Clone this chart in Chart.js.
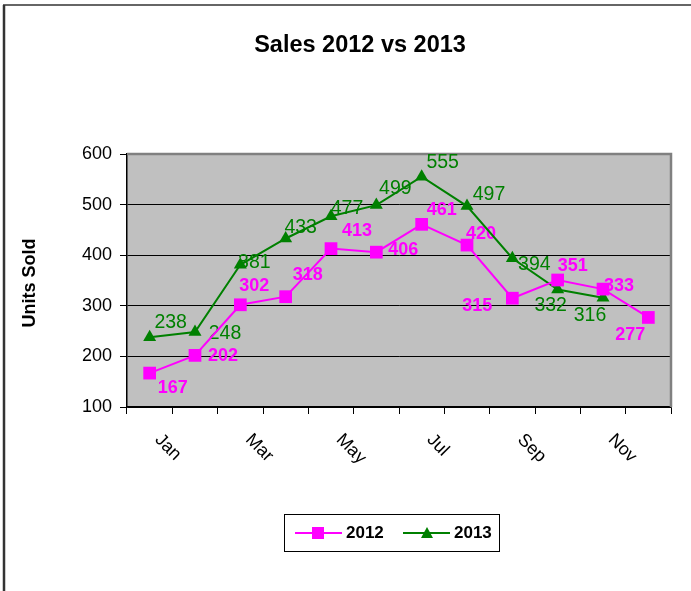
<!DOCTYPE html>
<html>
<head>
<meta charset="utf-8">
<script src="https://cdn.jsdelivr.net/npm/chart.js@4.4.0/dist/chart.umd.min.js"></script>
<style>
  html, body { margin: 0; padding: 0; background: #fff; }
  canvas { display: block; }
</style>
</head>
<body>
<canvas id="myChart" width="691" height="591"></canvas>
<script>
const months = ['Jan', 'Feb', 'Mar', 'Apr', 'May', 'Jun', 'Jul', 'Aug', 'Sep', 'Oct', 'Nov', 'Dec'];
const sales2012 = [167, 202, 302, 318, 413, 406, 461, 420, 315, 351, 333, 277];
const sales2013 = [238, 248, 381, 433, 477, 499, 555, 497, 394, 332, 316, null];
const yMin = 100;
const yMax = 600;
const yStep = 100;

// where each value label sits relative to its point (px)
const labelOffsets2012 = [[23,15],[28,1],[14,-19],[22,-22],[26,-18],[27,-2],[20,-14],[14,-11],[-35,8],[15,-14],[16,-3],[-18,18]];
const labelOffsets2013 = [[21,-15],[30,2],[14,-2],[15,-11],[16,-8],[19,-16],[21,-14],[22,-11],[22,6],[-7,16],[-13,18]];

const FONT = '"Liberation Sans", Arial, sans-serif';
const MAGENTA = '#FF00FF';
const GREEN = '#008000';

const decorations = {
    id: 'decorations',
    beforeDraw(chart) {
        const c = chart.ctx;
        const a = chart.chartArea;
        c.save();
        c.fillStyle = '#fff';
        c.fillRect(0, 0, chart.width, chart.height);
        // outer frame
        c.strokeStyle = '#333';
        c.lineWidth = 2.5;
        c.beginPath();
        c.moveTo(4, chart.height + 5);
        c.lineTo(4, 5);
        c.stroke();
        c.lineWidth = 1.5;
        c.beginPath();
        c.moveTo(3, 5);
        c.lineTo(chart.width + 5, 5);
        c.stroke();
        // plot area
        c.fillStyle = '#C0C0C0';
        c.fillRect(a.left, a.top, a.right - a.left, a.bottom - a.top);
        // title
        c.fillStyle = '#000';
        c.font = 'bold 23.5px ' + FONT;
        c.textAlign = 'center';
        c.textBaseline = 'middle';
        c.fillText('Sales 2012 vs 2013', 360, 46);
        // y axis title
        c.translate(30, 283);
        c.rotate(-Math.PI / 2);
        c.font = 'bold 18px ' + FONT;
        c.fillText('Units Sold', 0, 0);
        c.restore();
    },
    beforeDatasetsDraw(chart) {
        const c = chart.ctx;
        const a = chart.chartArea;
        c.save();
        c.strokeStyle = '#808080';
        c.lineWidth = 2.5;
        c.beginPath();
        c.moveTo(a.left, a.top);
        c.lineTo(a.right, a.top);
        c.lineTo(a.right, a.bottom);
        c.stroke();

        // value labels (markers are drawn over them)
        const sets = [
            { offs: labelOffsets2012, font: 'bold 18px ' + FONT, color: MAGENTA },
            { offs: labelOffsets2013, font: '19.5px ' + FONT, color: GREEN }
        ];
        c.textAlign = 'center';
        c.textBaseline = 'middle';
        sets.forEach((s, di) => {
            const meta = chart.getDatasetMeta(di);
            const vals = chart.data.datasets[di].data;
            c.font = s.font;
            c.fillStyle = s.color;
            meta.data.forEach((pt, i) => {
                if (vals[i] == null || !s.offs[i]) return;
                c.fillText(String(vals[i]), pt.x + s.offs[i][0], pt.y + s.offs[i][1]);
            });
        });
        c.restore();
    },
    afterDraw(chart) {
        const c = chart.ctx;
        const xs = chart.scales.x;
        c.save();
        // rotated month labels, every other month
        c.fillStyle = '#000';
        c.font = '18px ' + FONT;
        c.textAlign = 'left';
        c.textBaseline = 'middle';
        months.forEach((m, i) => {
            if (i % 2) return;
            const x = xs.getPixelForValue(i);
            c.save();
            c.translate(x + 8, 437);
            c.rotate(Math.PI / 4);
            c.fillText(m, 0, 0);
            c.restore();
        });

        // legend
        c.strokeStyle = '#000';
        c.lineWidth = 1;
        c.strokeRect(284.5, 514.5, 215, 37);
        c.lineWidth = 2;
        c.strokeStyle = MAGENTA;
        c.beginPath(); c.moveTo(295, 533); c.lineTo(342, 533); c.stroke();
        c.fillStyle = MAGENTA;
        c.fillRect(312, 527, 12, 12);
        c.strokeStyle = GREEN;
        c.beginPath(); c.moveTo(403, 533); c.lineTo(450, 533); c.stroke();
        c.fillStyle = GREEN;
        c.beginPath();
        c.moveTo(427, 527); c.lineTo(433, 538); c.lineTo(421, 538); c.closePath();
        c.fill();
        c.fillStyle = '#000';
        c.font = 'bold 17px ' + FONT;
        c.textAlign = 'left';
        c.fillText('2012', 346, 533);
        c.fillText('2013', 454, 533);
        c.restore();
    }
};

const ctx = document.getElementById('myChart');

const config = {
    type: 'line',
    data: {
        labels: months,
        datasets: [
            {
                label: '2012',
                data: sales2012,
                borderColor: MAGENTA,
                backgroundColor: MAGENTA,
                borderWidth: 2,
                pointStyle: 'rect',
                pointRadius: 9,
                pointBorderWidth: 0,
                tension: 0
            },
            {
                label: '2013',
                data: sales2013,
                borderColor: GREEN,
                backgroundColor: GREEN,
                borderWidth: 2,
                pointStyle: 'triangle',
                pointRadius: 7.5,
                pointBorderWidth: 0,
                tension: 0
            }
        ]
    },
    options: {
        responsive: false,
        animation: false,
        events: [],
        layout: {
            padding: { left: 77, top: 154, right: 20, bottom: 177 }
        },
        plugins: {
            legend: { display: false },
            title: { display: false },
            tooltip: { enabled: false }
        },
        scales: {
            x: {
                offset: true,
                afterFit: (s) => { s.height = 7; },
                grid: {
                    offset: true,
                    drawOnChartArea: false,
                    drawTicks: true,
                    tickLength: 7,
                    tickColor: '#000',
                    color: '#000'
                },
                border: { display: true, color: '#000', width: 1.5 },
                ticks: { display: false }
            },
            y: {
                min: yMin,
                max: yMax,
                afterFit: (s) => { s.width = 50; },
                ticks: {
                    stepSize: yStep,
                    padding: 8,
                    color: '#000',
                    font: { family: FONT, size: 18 }
                },
                grid: {
                    color: (c) => (c.tick && c.tick.value === yMax) ? 'rgba(0,0,0,0)' : '#000',
                    tickColor: '#000',
                    tickLength: 7,
                    lineWidth: 1
                },
                border: { display: true, color: '#000', width: 1.5 }
            }
        }
    },
    plugins: [decorations]
};

new Chart(ctx, config);
</script>
</body>
</html>
